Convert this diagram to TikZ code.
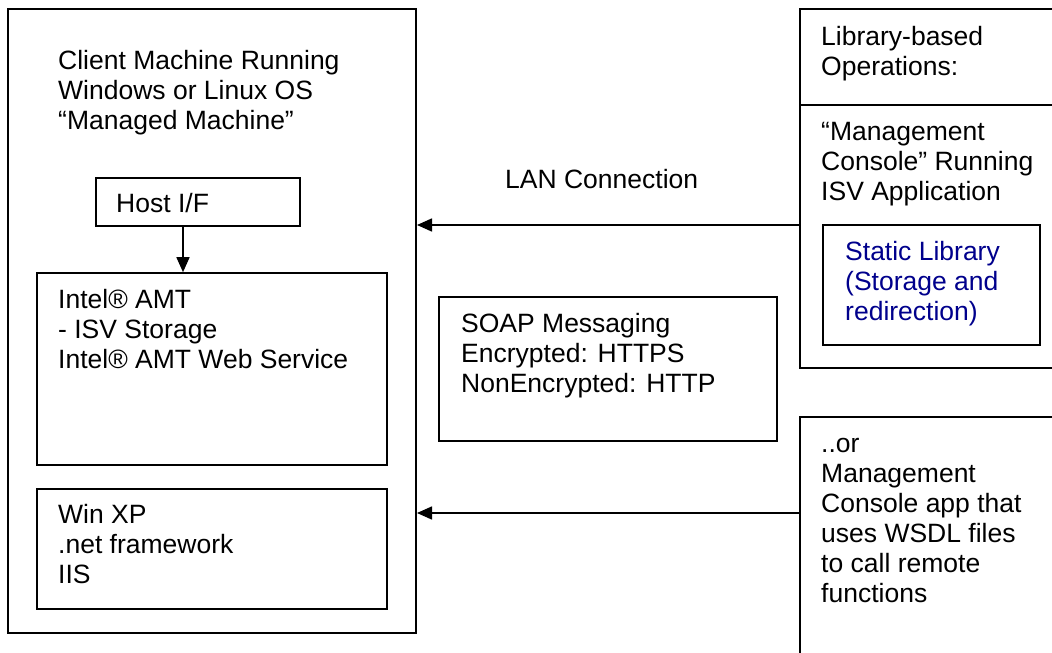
\documentclass[tikz,border=0pt]{standalone}
\usepackage{fontspec}
\setmainfont{Liberation Sans}
\usetikzlibrary{arrows.meta}
\definecolor{libblue}{RGB}{0,0,140}
\newcommand\txtlines[1]{\begin{tabular}[t]{@{}l@{}}#1\end{tabular}}
\tikzset{
  outerbox/.style={draw=black, line width=2pt, inner sep=0pt},
  innerbox/.style={draw=black, line width=1.6pt, inner sep=0pt},
  lbl/.style={anchor=base west, inner sep=0pt, font=\fontsize{26.5}{30}\selectfont},
  conn/.style={line width=1.6pt, -{Triangle[length=15pt,width=13pt]}},
}
\begin{document}
\begin{tikzpicture}[x=1pt,y=-1pt]
\useasboundingbox (0,0) rectangle (1052,653);
\clip (0,0) rectangle (1052,653);
% boxes
\node[outerbox, minimum width=408pt, minimum height=624pt] (client) at (212,321) {};
\node[innerbox, minimum width=204pt, minimum height=48pt] (host) at (198,202) {};
\node[innerbox, minimum width=350pt, minimum height=192pt] (amt) at (212,369) {};
\node[innerbox, minimum width=350pt, minimum height=120pt] (winxp) at (212,549) {};
\node[innerbox, minimum width=338pt, minimum height=144pt] (soap) at (608,369) {};
\node[outerbox, minimum width=270pt, minimum height=96pt] (libops) at (935,57) {};
\node[outerbox, minimum width=270pt, minimum height=263pt] (mgmt) at (935,236.5) {};
\node[innerbox, minimum width=217pt, minimum height=120pt] (staticlib) at (931.5,285) {};
\node[outerbox, minimum width=270pt, minimum height=260pt] (wsdl) at (935,547) {};
% texts
\node[lbl] (tclient) at (58,69) {\txtlines{Client Machine Running\\Windows or Linux OS\\“Managed Machine”}};
\node[lbl] (thost) at (116,212) {Host I/F};
\node[lbl] (tamt) at (58,308) {\txtlines{Intel® AMT\\- ISV Storage\\Intel® AMT Web Service}};
\node[lbl] (twin) at (58,523) {\txtlines{Win XP\\.net framework\\IIS}};
\node[lbl] (tsoap) at (461,332) {\txtlines{SOAP Messaging\\Encrypted: HTTPS\\NonEncrypted: HTTP}};
\node[lbl] (tlan) at (505,188) {LAN Connection};
\node[lbl] (tlib) at (821,45) {\txtlines{Library-based\\Operations:}};
\node[lbl] (tmgmt) at (821,140) {\txtlines{“Management\\Console” Running\\ISV Application}};
\node[lbl, text=libblue] (tstatic) at (845,260) {\txtlines{Static Library\\(Storage and\\redirection)}};
\node[lbl] (twsdl) at (821,452) {\txtlines{..or\\Management\\Console app that\\uses WSDL files\\to call remote\\functions}};
% connectors
\coordinate (lanY) at (0,225);
\coordinate (wsdlY) at (0,513);
\coordinate (hostX) at (183,0);
\draw[conn] (host.south -| hostX) -- (amt.north -| hostX);
\draw[conn] (mgmt.west |- lanY) -- (client.east |- lanY);
\draw[conn] (wsdl.west |- wsdlY) -- (client.east |- wsdlY);
\end{tikzpicture}
\end{document}
